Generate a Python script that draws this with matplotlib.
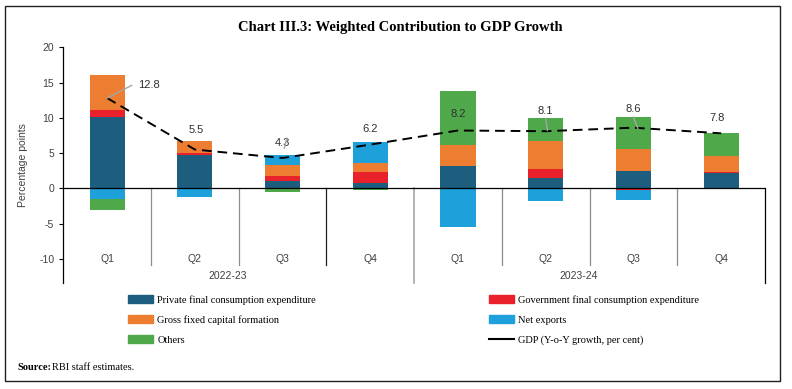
import matplotlib
matplotlib.use("Agg")
import matplotlib.pyplot as plt
import matplotlib.patches as mpatches
import matplotlib.lines as mlines
import numpy as np

plt.rcParams["axes.unicode_minus"] = False

# ------------------------------------------------------------
# data (percentage points)
# ------------------------------------------------------------
quarters = ["Q1", "Q2", "Q3", "Q4", "Q1", "Q2", "Q3", "Q4"]
years = ["2022-23", "2023-24"]

pfce = [10.1, 4.7, 1.1, 0.8, 3.1, 1.5, 2.45, 2.2]
gfce = [1.0, 0.35, 0.65, 1.5, 0.0, 1.3, -0.3, 0.05]
gfcf = [5.0, 1.6, 1.6, 1.3, 3.0, 3.9, 3.1, 2.35]
net_exports = [-1.5, -1.2, 1.4, 2.9, -5.5, -1.85, -1.3, 0.0]
others = [-1.6, 0.1, -0.5, -0.3, 7.7, 3.25, 4.6, 3.2]
gdp = [12.8, 5.5, 4.3, 6.2, 8.2, 8.1, 8.6, 7.8]

series = [
    ("Private final consumption expenditure", pfce, "#1D5E7E"),
    ("Government final consumption expenditure", gfce, "#E8212B"),
    ("Gross fixed capital formation", gfcf, "#ED7D31"),
    ("Net exports", net_exports, "#1EA0DA"),
    ("Others", others, "#4FA94A"),
]

SERIF = "Liberation Serif"
SANS = "Liberation Sans"
GREY_TXT = "#404040"

fig = plt.figure(figsize=(7.92, 3.89), dpi=100)
ax = fig.add_axes([0.0799, 0.2712, 0.886, 0.6072])

x = np.arange(len(quarters))
pos_base = np.zeros(len(x))
neg_base = np.zeros(len(x))
for name, vals, col in series:
    v = np.array(vals)
    base = np.where(v >= 0, pos_base, neg_base)
    ax.bar(x, v, 0.4, bottom=base, color=col, edgecolor="none", zorder=2)
    pos_base += np.where(v >= 0, v, 0)
    neg_base += np.where(v < 0, v, 0)

ax.plot(x, gdp, color="black", linestyle=(0, (5, 3)), linewidth=1.4, zorder=3)

# GDP labels (offset from the line)
lab_off = [(0.35, 14.6, "left"), (0.01, 8.3, "center"), (0.0, 6.4, "center"),
           (0.0, 8.4, "center"), (0.0, 10.5, "center"), (0.0, 10.9, "center"),
           (0.0, 11.3, "center"), (-0.05, 10.0, "center")]
for i, (dx, yy, ha) in enumerate(lab_off):
    ax.text(x[i] + dx, yy, f"{gdp[i]:.1f}", ha=ha, va="center",
            fontsize=8, family=SANS, color="#303030", zorder=4)

# leader lines
leaders = [(0, 0.0, 12.8, 0.28, 14.6), (1, 1.05, 7.1, 1.02, 5.7),
           (5, 0.0, 9.8, 0.02, 8.2), (6, 0.0, 10.1, 0.05, 8.5)]
for i, x0, y0, x1, y1 in leaders:
    ax.plot([x[i] + x0, x[i] + x1], [y0, y1], color="#A6A6A6", lw=1.0, zorder=4)

ax.set_xlim(-0.5, 7.5)
ax.set_ylim(-13.5, 20)
ax.set_yticks(range(-10, 21, 5))
ax.tick_params(axis="y", direction="out", length=3, width=0.8,
               labelsize=7.5, labelcolor=GREY_TXT)
for t in ax.get_yticklabels():
    t.set_family(SANS)
ax.set_xticks([])
for s in ["top", "right", "bottom"]:
    ax.spines[s].set_visible(False)
ax.spines["left"].set_linewidth(0.9)
ax.spines["left"].set_bounds(-13.4, 20)

ax.axhline(0, color="black", lw=0.9, zorder=3)

# category separators (multi-level axis look)
for b in [0.5, 1.5, 2.5, 4.5, 5.5, 6.5]:
    ax.plot([b, b], [0, -10.9], color="#8C8C8C" if b != 2.5 else "#202020",
            lw=0.9, zorder=1)
ax.plot([3.5, 3.5], [0, -13.4], color="#A6A6A6", lw=1.2, zorder=1)
ax.plot([7.5, 7.5], [0, -13.4], color="black", lw=0.9, clip_on=False, zorder=1)

for i, q in enumerate(quarters):
    ax.text(x[i], -10, q, ha="center", va="center", fontsize=7.5,
            family=SANS, color=GREY_TXT)
for j, yr in enumerate(years):
    ax.text(1.38 + 4 * j, -12.5, yr, ha="center", va="center", fontsize=7.5,
            family=SANS, color=GREY_TXT)

ax.set_ylabel("Percentage points", fontsize=7.5, family=SANS,
              color=GREY_TXT, labelpad=8)

fig.text(0.505, 0.93, "Chart III.3: Weighted Contribution to GDP Growth",
         ha="center", va="center", fontsize=10.5, fontweight="bold",
         family=SERIF)

# legends (two columns)
h = [mpatches.Patch(color=c, label=n) for n, _, c in series]
gdp_h = mlines.Line2D([], [], color="black", lw=1.5,
                      label="GDP (Y-o-Y growth, per cent)")
leg_kw = dict(frameon=False, prop={"family": SERIF, "size": 7.5},
              handlelength=2.4, handleheight=0.75, handletextpad=0.4,
              labelspacing=1.0, borderaxespad=0, borderpad=0)
leg1 = fig.legend(handles=[h[0], h[2], h[4]], loc="upper left",
                  bbox_to_anchor=(128 / 792, 1 - 295 / 389), **leg_kw)
leg2 = fig.legend(handles=[h[1], h[3], gdp_h], loc="upper left",
                  bbox_to_anchor=(489 / 792, 1 - 295 / 389), **leg_kw)

fig.text(17 / 792, 1 - 367 / 389, "Source:", fontsize=7.5, fontweight="bold",
         family=SERIF, va="center")
fig.text(52 / 792, 1 - 367 / 389, "RBI staff estimates.", fontsize=7.5,
         family=SERIF, va="center")

frame = mpatches.Rectangle((5 / 792, 1 - 381 / 389), 775 / 792, 375 / 389,
                           transform=fig.transFigure, fill=False,
                           edgecolor="#202020", lw=1.0)
fig.patches.append(frame)

fig.savefig("out.png", dpi=100, facecolor="white")
